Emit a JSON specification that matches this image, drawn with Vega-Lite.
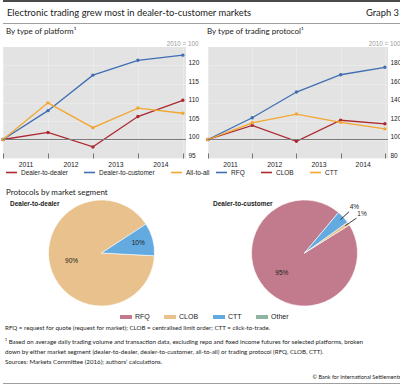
{
  "$schema": "https://vega.github.io/schema/vega-lite/v6.json",
  "padding": 0,
  "autosize": {"type": "pad"},
  "background": "white",
  "bounds": "flush",
  "spacing": 0,
  "resolve": {"scale": {"color": "independent", "x": "independent", "y": "independent", "theta": "independent", "radius": "independent"}, "legend": {"color": "independent"}},
  "config": {
    "font": "Liberation Sans",
    "view": {"stroke": null},
    "title": {"font": "Lato", "fontWeight": "normal", "color": "#222222", "anchor": "start", "frame": "group"},
    "axis": {"labelFont": "Liberation Sans", "labelFontSize": 6.5, "labelColor": "#222222", "labelOverlap": false, "labelFlush": false, "labelSeparation": 0},
    "legend": {"labelFont": "Liberation Sans", "labelFontSize": 6.5, "labelColor": "#222222"}
  },
  "vconcat": [
    {"width": 400, "height": 2, "view": {"fill": "#4a4a4a", "stroke": null}, "data": {"values": []}, "mark": "rule", "encoding": {}},
    {"width": 400, "height": 21, "data": {"values": []}, "mark": "rule", "encoding": {}},
    {
      "hconcat": [
        {"width": 330, "height": 1, "view": {"fill": "#a0a0a0", "stroke": null}, "data": {"values": []}, "mark": "rule", "encoding": {},
         "title": {"text": "Electronic trading grew most in dealer-to-customer markets", "fontSize": 9.4, "dx": 4, "offset": 5}},
        {"width": 70, "height": 1, "view": {"fill": "#a0a0a0", "stroke": null}, "data": {"values": []}, "mark": "rule", "encoding": {},
         "title": {"text": "Graph 3", "anchor": "end", "fontSize": 9.4, "dx": -4, "offset": 5}}
      ],
      "spacing": 0,
      "bounds": "flush"
    },
    {"width": 400, "height": 24, "data": {"values": []}, "mark": "rule", "encoding": {}},
    {
      "hconcat": [
        {
          "width": 183, "height": 111,
          "view": {"fill": "#e3e3e3", "stroke": null},
          "title": {"text": "By type of platform¹", "fontSize": 8, "dx": 3, "offset": 4},
          "data": {"values": [
            {"year": 2010, "platform": "Dealer-to-dealer", "value": 100},
            {"year": 2011, "platform": "Dealer-to-dealer", "value": 101.9},
            {"year": 2012, "platform": "Dealer-to-dealer", "value": 98.0},
            {"year": 2013, "platform": "Dealer-to-dealer", "value": 106.2},
            {"year": 2014, "platform": "Dealer-to-dealer", "value": 110.6},
            {"year": 2010, "platform": "Dealer-to-customer", "value": 100},
            {"year": 2011, "platform": "Dealer-to-customer", "value": 107.8},
            {"year": 2012, "platform": "Dealer-to-customer", "value": 117.4},
            {"year": 2013, "platform": "Dealer-to-customer", "value": 121.4},
            {"year": 2014, "platform": "Dealer-to-customer", "value": 122.8},
            {"year": 2010, "platform": "All-to-all", "value": 100},
            {"year": 2011, "platform": "All-to-all", "value": 109.9},
            {"year": 2012, "platform": "All-to-all", "value": 103.2},
            {"year": 2013, "platform": "All-to-all", "value": 108.5},
            {"year": 2014, "platform": "All-to-all", "value": 107.1}
          ]},
          "layer": [
            {
              "mark": {"type": "line", "strokeWidth": 1.3, "point": {"filled": true, "size": 12}},
              "encoding": {
                "x": {"field": "year", "type": "quantitative", "scale": {"domain": [2010, 2014.07], "nice": false, "zero": false},
                  "axis": {"values": [2010, 2011, 2012, 2013, 2014], "tickCount": 10, "labelExpr": "datum.value < 2014 ? format(datum.value + 1, 'd') : ''", "labelOffset": 22.5, "tickSize": -5, "tickColor": "#555555", "tickWidth": 0.8, "domain": false, "grid": true, "gridColor": "#efefef", "gridWidth": 0.6, "labelPadding": 8, "labelFontSize": 6.8, "title": null}},
                "y": {"field": "value", "type": "quantitative", "scale": {"domain": [95, 125], "nice": false, "zero": false},
                  "axis": {"orient": "right", "values": [95, 100, 105, 110, 115, 120], "tickCount": 10, "ticks": false, "domain": false, "grid": true, "gridColor": "#efefef", "gridWidth": 0.6, "labelPadding": 2, "labelBaseline": "alphabetic", "labelOffset": -1, "title": "2010 = 100", "titleAngle": 0, "titleAlign": "right", "titleBaseline": "bottom", "titleX": 12, "titleY": -1, "titleFontSize": 6.3, "titleColor": "#9a9a9a", "titleFontWeight": "normal", "titleFont": "Liberation Sans"}},
                "color": {"field": "platform", "type": "nominal",
                  "scale": {"domain": ["Dealer-to-dealer", "Dealer-to-customer", "All-to-all"], "range": ["#ab2a30", "#3f6eb3", "#f2a731"]},
                  "legend": {"orient": "none", "legendX": 2, "legendY": 119, "direction": "horizontal", "title": null, "symbolType": "stroke", "symbolStrokeWidth": 1.6, "symbolSize": 120, "columnPadding": 12, "padding": 0, "labelOffset": 3}}
              }
            },
            {"mark": {"type": "rule", "color": "#7a7a7a", "strokeWidth": 0.9}, "encoding": {"y": {"datum": 100}}}
          ]
        },
        {
          "width": 180, "height": 111,
          "view": {"fill": "#e3e3e3", "stroke": null},
          "title": {"text": "By type of trading protocol¹", "fontSize": 8, "dx": -1, "offset": 4},
          "data": {"values": [
            {"year": 2010, "protocol": "RFQ", "value": 100},
            {"year": 2011, "protocol": "RFQ", "value": 123.5},
            {"year": 2012, "protocol": "RFQ", "value": 151.3},
            {"year": 2013, "protocol": "RFQ", "value": 170},
            {"year": 2014, "protocol": "RFQ", "value": 178},
            {"year": 2010, "protocol": "CLOB", "value": 100},
            {"year": 2011, "protocol": "CLOB", "value": 115.3},
            {"year": 2012, "protocol": "CLOB", "value": 98},
            {"year": 2013, "protocol": "CLOB", "value": 120.8},
            {"year": 2014, "protocol": "CLOB", "value": 117},
            {"year": 2010, "protocol": "CTT", "value": 100},
            {"year": 2011, "protocol": "CTT", "value": 118},
            {"year": 2012, "protocol": "CTT", "value": 127.5},
            {"year": 2013, "protocol": "CTT", "value": 118.5},
            {"year": 2014, "protocol": "CTT", "value": 111.5}
          ]},
          "layer": [
            {
              "mark": {"type": "line", "strokeWidth": 1.3, "point": {"filled": true, "size": 12}},
              "encoding": {
                "x": {"field": "year", "type": "quantitative", "scale": {"domain": [2010, 2014.07], "nice": false, "zero": false},
                  "axis": {"values": [2010, 2011, 2012, 2013, 2014], "tickCount": 10, "labelExpr": "datum.value < 2014 ? format(datum.value + 1, 'd') : ''", "labelOffset": 22, "tickSize": -5, "tickColor": "#555555", "tickWidth": 0.8, "domain": false, "grid": true, "gridColor": "#efefef", "gridWidth": 0.6, "labelPadding": 8, "labelFontSize": 6.8, "title": null}},
                "y": {"field": "value", "type": "quantitative", "scale": {"domain": [80, 200], "nice": false, "zero": false},
                  "axis": {"orient": "right", "values": [80, 100, 120, 140, 160, 180], "tickCount": 10, "ticks": false, "domain": false, "grid": true, "gridColor": "#efefef", "gridWidth": 0.6, "labelPadding": 2, "labelBaseline": "alphabetic", "labelOffset": -1, "title": "2010 = 100", "titleAngle": 0, "titleAlign": "right", "titleBaseline": "bottom", "titleX": 12, "titleY": -1, "titleFontSize": 6.3, "titleColor": "#9a9a9a", "titleFontWeight": "normal", "titleFont": "Liberation Sans"}},
                "color": {"field": "protocol", "type": "nominal",
                  "scale": {"domain": ["RFQ", "CLOB", "CTT"], "range": ["#3f6eb3", "#ab2a30", "#f2a731"]},
                  "legend": {"orient": "none", "legendX": 7, "legendY": 119, "direction": "horizontal", "title": null, "symbolType": "stroke", "symbolStrokeWidth": 1.6, "symbolSize": 120, "columnPadding": 12, "padding": 0, "labelOffset": 3}}
              }
            },
            {"mark": {"type": "rule", "color": "#7a7a7a", "strokeWidth": 0.9}, "encoding": {"y": {"datum": 100}}}
          ]
        }
      ],
      "spacing": 22,
      "bounds": "flush",
      "resolve": {"scale": {"color": "independent", "x": "independent", "y": "independent"}, "legend": {"color": "independent"}}
    },
    {"width": 400, "height": 153, "data": {"values": []}, "mark": "rule", "encoding": {}},
    {
      "title": {"text": "Protocols by market segment", "fontSize": 8, "dx": 3, "offset": 2},
      "hconcat": [
        {
          "width": 197, "height": 106,
          "title": {"text": "Dealer-to-dealer", "font": "Liberation Sans", "fontSize": 6.5, "fontWeight": "bold", "dx": 7, "offset": -9},
          "data": {"values": [
            {"segment": "Dealer-to-dealer", "protocol": "CLOB", "share": 0.90},
            {"segment": "Dealer-to-dealer", "protocol": "CTT", "share": 0.10}
          ]},
          "encoding": {
            "theta": {"field": "share", "type": "quantitative", "stack": true, "scale": {"range": [1.623, 7.906]}},
            "order": {"field": "share", "sort": "descending"},
            "color": {"field": "protocol", "type": "nominal",
              "scale": {"domain": ["RFQ", "CLOB", "CTT", "Other"], "range": ["#c27b8d", "#e8c18c", "#62aae0", "#90b4a2"]},
              "legend": {"orient": "none", "legendX": 117, "legendY": 111, "direction": "horizontal", "title": null, "symbolType": "M-1,-0.33H1V0.33H-1Z", "symbolSize": 144, "symbolStrokeWidth": 0, "labelFontSize": 7, "columnPadding": 14, "labelOffset": 3, "padding": 0}}
          },
          "layer": [
            {"mark": {"type": "arc", "outerRadius": 53, "stroke": "#ffffff", "strokeWidth": 0.6}},
            {"mark": {"type": "text", "fontSize": 6.5}, "encoding": {"text": {"field": "share", "format": ".0%"}, "color": {"value": "#222222"}, "radius": {"field": "share", "type": "quantitative", "scale": {"type": "linear", "zero": false, "domain": [0.1, 0.9], "range": [38, 31]}}}}
          ]
        },
        {
          "width": 197, "height": 106,
          "title": {"text": "Dealer-to-customer", "font": "Liberation Sans", "fontSize": 6.5, "fontWeight": "bold", "dx": 7, "offset": -9},
          "data": {"values": [
            {"segment": "Dealer-to-customer", "protocol": "RFQ", "share": 0.95},
            {"segment": "Dealer-to-customer", "protocol": "CLOB", "share": 0.01},
            {"segment": "Dealer-to-customer", "protocol": "CTT", "share": 0.04}
          ]},
          "encoding": {
            "theta": {"field": "share", "type": "quantitative", "stack": true, "scale": {"range": [1.012, 7.295]}},
            "order": {"field": "share", "sort": "descending"},
            "color": {"field": "protocol", "type": "nominal",
              "scale": {"domain": ["RFQ", "CLOB", "CTT", "Other"], "range": ["#c27b8d", "#e8c18c", "#62aae0", "#90b4a2"]},
              "legend": null}
          },
          "layer": [
            {"mark": {"type": "arc", "outerRadius": 53, "stroke": "#ffffff", "strokeWidth": 0.6}},
            {"mark": {"type": "arc", "innerRadius": 49, "padAngle": 0.6, "filled": false, "strokeWidth": 0.6},
             "encoding": {"color": {"value": "#333333"}, "opacity": {"condition": {"test": "datum.share < 0.2", "value": 1}, "value": 0},
               "radius": {"field": "share", "type": "quantitative", "scale": {"type": "linear", "zero": false, "domain": [0.01, 0.95], "range": [62.5, 0]}}}},
            {"mark": {"type": "text", "fontSize": 6.5}, "encoding": {"text": {"field": "share", "format": ".0%"}, "color": {"value": "#222222"}, "radius": {"field": "share", "type": "quantitative", "scale": {"type": "linear", "zero": false, "domain": [0.04, 0.95], "range": [68, 30]}}}}
          ],
          "resolve": {"scale": {"radius": "independent"}}
        }
      ],
      "spacing": 6,
      "bounds": "flush",
      "resolve": {"scale": {"theta": "independent", "color": "independent", "radius": "independent"}, "legend": {"color": "independent"}}
    },
    {"width": 400, "height": 167, "data": {"values": []}, "mark": "rule", "encoding": {}},
    {
      "width": 400, "height": 16,
      "data": {"values": []}, "mark": "rule", "encoding": {},
      "title": {
        "text": "RFQ = request for quote (request for market); CLOB = centralised limit order; CTT = click-to-trade.",
        "subtitle": [
          "¹ Based on average daily trading volume and transaction data, excluding repo and fixed income futures for selected platforms, broken",
          "down by either market segment (dealer-to-dealer, dealer-to-customer, all-to-all) or trading protocol (RFQ, CLOB, CTT).",
          "Sources: Markets Committee (2016); authors’ calculations."
        ],
        "fontSize": 6.2, "subtitleFont": "Lato", "subtitleFontSize": 6.2, "subtitleColor": "#222222", "subtitleLineHeight": 10, "subtitlePadding": 8, "dx": 2, "offset": 2
      }
    },
    {"width": 400, "height": 1, "view": {"fill": "#a0a0a0", "stroke": null}, "data": {"values": []}, "mark": "rule", "encoding": {},
     "title": {"text": "© Bank for International Settlements", "anchor": "end", "fontSize": 5.5, "dx": -2, "offset": 3}}
  ]
}
